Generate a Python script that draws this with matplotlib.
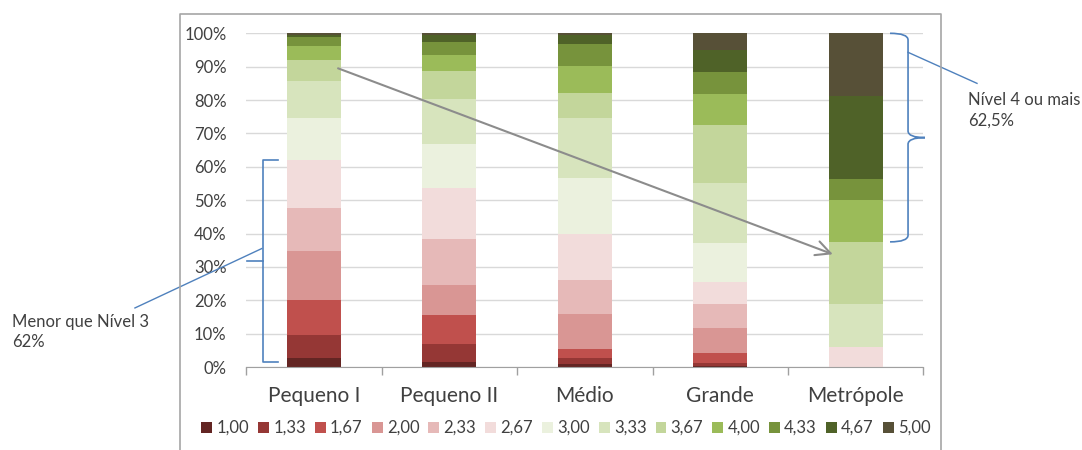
import numpy as np
import matplotlib
matplotlib.use("Agg")
import matplotlib.pyplot as plt
from matplotlib.path import Path
from matplotlib.patches import PathPatch
from matplotlib.lines import Line2D

# Categorias de porte de município e níveis de proficiência
categories = ["Pequeno I", "Pequeno II", "Médio", "Grande", "Metrópole"]
levels = ["1,00", "1,33", "1,67", "2,00", "2,33", "2,67", "3,00",
          "3,33", "3,67", "4,00", "4,33", "4,67", "5,00"]

# Percentual de cada nível por categoria (mesma ordem de levels)
pequeno_i  = [2.8, 6.7, 10.7, 14.5, 13.1, 14.2, 12.5, 11.3, 6.2, 4.2, 2.6, 0.8, 0.4]
pequeno_ii = [1.5, 5.3, 8.8, 9.1, 13.8, 15.0, 13.3, 13.5, 8.5, 4.7, 3.8, 2.2, 0.5]
medio      = [1.0, 1.8, 2.7, 10.5, 10.2, 13.8, 16.5, 18.0, 7.7, 8.0, 6.6, 2.7, 0.5]
grande     = [0.3, 0.9, 3.0, 7.6, 7.2, 6.5, 11.7, 17.8, 17.5, 9.3, 6.5, 6.7, 5.0]
metropole  = [0.0, 0.0, 0.0, 0.0, 0.0, 6.0, 0.0, 12.8, 18.7, 12.5, 6.4, 24.8, 18.8]

colors = ["#632523", "#953735", "#C0504D", "#D99694", "#E6B9B8", "#F2DCDB",
          "#EBF1DE", "#D7E4BD", "#C3D69B", "#9BBB59", "#77933C", "#4F6228", "#575037"]

txt = "#404040"
blue = "#4F81BD"
plt.rcParams['font.family'] = ['Lato', 'DejaVu Sans']

data = np.array([pequeno_i, pequeno_ii, medio, grande, metropole])
x = np.arange(len(categories))

fig = plt.figure(figsize=(10.82, 4.5), dpi=100)
ax = fig.add_axes([0.2274, 0.1844, 0.6261, 0.7416])

bottom = np.zeros(len(categories))
for i, lab in enumerate(levels):
    ax.bar(x, data[:, i], 0.4, bottom=bottom, color=colors[i], label=lab, zorder=2)
    bottom += data[:, i]

ax.set_xlim(-0.5, 4.5)
ax.set_ylim(0, 100)
ax.set_yticks(np.arange(0, 101, 10))
ax.set_yticklabels([f"{v}%" for v in range(0, 101, 10)], fontsize=12, color=txt)
ax.yaxis.grid(True, color="#d9d9d9", lw=1, zorder=0)
ax.tick_params(axis="y", length=0, pad=14)

ax.set_xticks(x)
ax.set_xticklabels(categories, fontsize=15, color=txt)
ax.set_xticks(np.arange(-0.5, 5, 1), minor=True)
ax.tick_params(axis="x", which="major", length=0, pad=14)
ax.tick_params(axis="x", which="minor", length=6, color="#a0a0a0", width=1)
for s in ["top", "right", "left"]:
    ax.spines[s].set_visible(False)
ax.spines["bottom"].set_color("#a0a0a0")

# Seta de tendência
ax.annotate("", xy=(3.85, 33.5), xytext=(0.16, 89.8),
            arrowprops=dict(arrowstyle="->, head_length=0.7, head_width=0.35",
                            color="#8c8c8c", lw=1.5, mutation_scale=15),
            zorder=5, annotation_clip=False)

# Colchete: abaixo do nível 3 em Pequeno I
low = sum(pequeno_i[:6])
bx, bs, b0 = -0.377, -0.262, 1.6
mid = (low + b0) / 2
ax.add_line(Line2D([bs, bx, bx, bs], [low, low, b0, b0], color=blue, lw=1.2, clip_on=False, zorder=5))
ax.add_line(Line2D([-0.49, bx], [mid, mid], color=blue, lw=1.2, clip_on=False, zorder=5))
ax.add_line(Line2D([bx - 0.007, -1.32], [mid + 3.7, 17.7], color=blue, lw=1.0, clip_on=False, zorder=5))
ax.text(-2.227, 15.8, f"Menor que Nível 3\n{low:.0f}%", fontsize=12, color=txt,
        ha="left", va="top", linespacing=1.3, clip_on=False)

# Chave: nível 4 ou mais em Metrópole
high = sum(metropole[9:])
top, lo = 100, 100 - high
m = (top + lo) / 2
x0, x1, x2 = 4.253, 4.386, 4.511
r = 2.0
verts = [(x0, top), (x1, top), (x1, top - r),
         (x1, m + r), (x1, m), (x2, m),
         (x1, m), (x1, m - r),
         (x1, lo + r), (x1, lo), (x0, lo)]
codes = [Path.MOVETO, Path.CURVE3, Path.CURVE3,
         Path.LINETO, Path.CURVE3, Path.CURVE3,
         Path.CURVE3, Path.CURVE3,
         Path.LINETO, Path.CURVE3, Path.CURVE3]
ax.add_patch(PathPatch(Path(verts, codes), fill=False, ec=blue, lw=1.2, clip_on=False, zorder=5))
ax.add_line(Line2D([x1, 4.895], [94.3, 85.0], color=blue, lw=1.0, clip_on=False, zorder=5))
ax.text(4.829, 82.3, f"Nível 4 ou mais\n{high:.1f}%".replace(".", ","), fontsize=12, color=txt,
        ha="left", va="top", linespacing=1.3, clip_on=False)

# Legenda
fig.legend(loc="center", bbox_to_anchor=(0.523, 1 - 428 / 450), ncol=13, frameon=False,
           fontsize=12, handlelength=0.65, handleheight=0.65, handletextpad=0.25,
           columnspacing=0.55, labelcolor=txt)

# Moldura do gráfico
fx0, fx1, fy = 180 / 1082, 941 / 1082, 1 - 14 / 450
fig.add_artist(Line2D([fx0, fx0, fx1, fx1], [-0.1, fy, fy, -0.1], color="#a6a6a6", lw=1.2,
                      transform=fig.transFigure))

fig.savefig("out.png", dpi=100)
